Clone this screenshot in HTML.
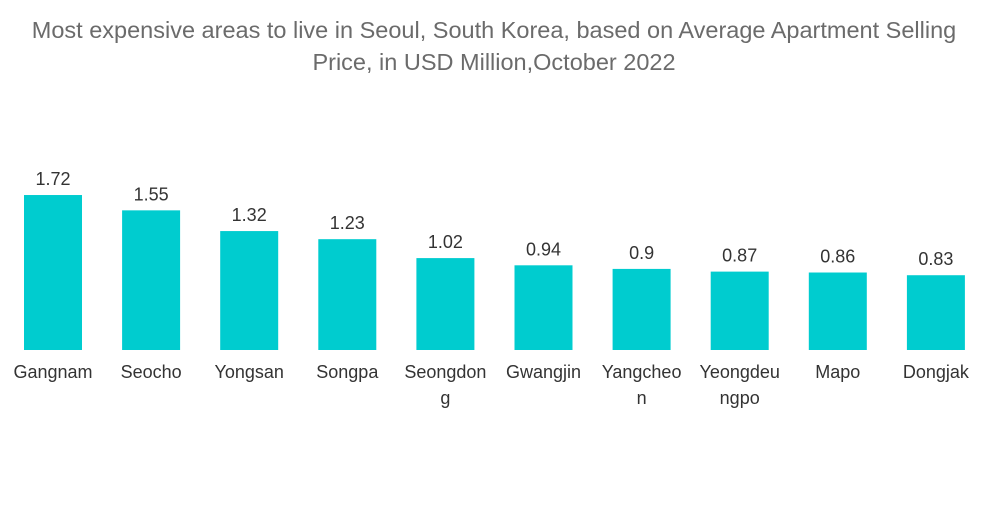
<!DOCTYPE html>
<html><head><meta charset="utf-8"><style>
body{margin:0;background:#fff;width:1000px;height:504px;overflow:hidden;font-family:"Liberation Sans",sans-serif}
</style></head><body>
<svg width="1000" height="504">
<text x="494" y="38" text-anchor="middle" font-size="23.5" fill="#6b6b6b">Most expensive areas to live in Seoul, South Korea, based on Average Apartment Selling</text>
<text x="494" y="70" text-anchor="middle" font-size="23.5" fill="#6b6b6b">Price, in USD Million,October 2022</text>
<g id="bars"></g>
</svg>
<script>
const categories=["Gangnam","Seocho","Yongsan","Songpa","Seongdong","Gwangjin","Yangcheon","Yeongdeungpo","Mapo","Dongjak"];
const labelLines=[["Gangnam"],["Seocho"],["Yongsan"],["Songpa"],["Seongdon","g"],["Gwangjin"],["Yangcheo","n"],["Yeongdeu","ngpo"],["Mapo"],["Dongjak"]];
const values=[1.72,1.55,1.32,1.23,1.02,0.94,0.9,0.87,0.86,0.83];
const valueLabels=["1.72","1.55","1.32","1.23","1.02","0.94","0.9","0.87","0.86","0.83"];
const base=350, scale=90.1, x0=53, pitch=98.1, bw=58;
const xPos=i=>x0+i*pitch;
const yPos=v=>base-v*scale;
const g=document.getElementById('bars');
const NS='http://www.w3.org/2000/svg';
values.forEach((v,i)=>{
  const r=document.createElementNS(NS,'rect');
  r.setAttribute('x',xPos(i)-bw/2);r.setAttribute('y',yPos(v));
  r.setAttribute('width',bw);r.setAttribute('height',base-yPos(v));
  r.setAttribute('fill','#00cccf');
  
  
  g.appendChild(r);
  const t=document.createElementNS(NS,'text');
  t.setAttribute('x',xPos(i));t.setAttribute('y',yPos(v)-10);
  t.setAttribute('text-anchor','middle');t.setAttribute('font-size','18');t.setAttribute('fill','#333');
  t.textContent=valueLabels[i];
  
  
  g.appendChild(t);
  labelLines[i].forEach((ln,j)=>{
    const c=document.createElementNS(NS,'text');
    c.setAttribute('x',xPos(i));c.setAttribute('y',378+j*26);
    c.setAttribute('text-anchor','middle');c.setAttribute('font-size','18');c.setAttribute('fill','#333');
    c.textContent=ln;
    
    
    g.appendChild(c);
  });
});
</script>
</body></html>
